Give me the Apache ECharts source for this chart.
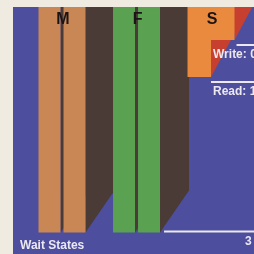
<!DOCTYPE html>
<html>
<head>
<meta charset="utf-8">
<script src="https://cdn.jsdelivr.net/npm/echarts@6/dist/echarts.min.js"></script>
<style>
  html, body { margin: 0; padding: 0; background: #efebe0; }
  #chart { width: 254px; height: 254px; }
</style>
</head>
<body>
<div id="chart"></div>
<script>
  // memory types, each drawn as a read half (left) and a write half (right)
  const categories = ['M', 'F', 'S']
  const slots = [0, 1, 2]
  const readEnd = [5.2, 5.2, 1]
  const writeEnd = [5.2, 5.2, 0]
  const readLabels = ['', '', 'Read: 1']
  const writeLabels = ['', '3', 'Write: 0']
  const barTop = -2 // bars run off the top of the crop

  // looks per column (not data)
  const looks = [
    { front: '#c98756', side: '#4a3b36', gap: 3, dy: 42, lineOff: 0, readGap: 4, writeGap: 4, textDx: 2 },
    { front: '#5aa152', side: '#4a3b36', gap: 3, dy: 42, lineOff: -1, readGap: 4, writeGap: 4, textDx: 108.5 },
    { front: '#ea8a3e', side: '#c7402f', gap: 0, dy: 54, lineOff: 5, readGap: 0, writeGap: 2, textDx: 2 }
  ]
  const HALF = 23.5
  const DX = 29
  const white = '#ece8f0'
  const labelFont = 'bold 12px "Liberation Sans", Arial, sans-serif'

  const chart = echarts.init(document.getElementById('chart'))

  function renderBar(params, api) {
    const i = params.dataIndex
    const lk = looks[i]
    const c = api.coord([api.value(0), 0])[0]
    const top = api.coord([0, barTop])[1]
    const yr = api.coord([0, api.value(1)])[1]
    const yw = api.coord([0, api.value(2)])[1]
    const lx0 = c - HALF
    const lx1 = c - lk.gap / 2
    const rx0 = c + lk.gap / 2
    const rx1 = c + HALF
    const side = (x, y) => ({
      type: 'polygon',
      shape: { points: [[x, y], [x + DX, y - lk.dy], [x + DX, top], [x, top]] },
      style: { fill: lk.side }
    })
    return {
      type: 'group',
      children: [
        side(lx1, yr),
        side(rx1, yw),
        { type: 'rect', shape: { x: lx0, y: top, width: lx1 - lx0, height: yr - top }, style: { fill: lk.front } },
        { type: 'rect', shape: { x: rx0, y: top, width: rx1 - rx0, height: yw - top }, style: { fill: lk.front } },
        {
          type: 'text',
          style: {
            text: categories[i], x: c + 1, y: params.coordSys.y + 13,
            fill: '#1a1414', font: 'bold 16px "Liberation Sans", Arial, sans-serif',
            align: 'center', verticalAlign: 'middle'
          }
        }
      ]
    }
  }

  function renderLeaders(params, api) {
    const i = params.dataIndex
    const lk = looks[i]
    const c = api.coord([api.value(0), 0])[0]
    const right = params.coordSys.x + params.coordSys.width
    const children = []
    const add = (label, start, value) => {
      if (!label) return
      const y = api.coord([0, value])[1] + lk.lineOff
      children.push({
        type: 'line',
        shape: { x1: start, y1: y, x2: right, y2: y },
        style: { stroke: white, lineWidth: 2 }
      })
      children.push({
        type: 'text',
        style: {
          text: label, x: c + lk.textDx, y: y + 10,
          fill: white, font: labelFont, align: 'left', verticalAlign: 'middle'
        }
      })
    }
    add(readLabels[i], c - lk.gap / 2 + lk.readGap, api.value(1))
    add(writeLabels[i], c + HALF + lk.writeGap, api.value(2))
    return { type: 'group', children }
  }

  const seriesData = slots.map((s, i) => [s, readEnd[i], writeEnd[i]])

  chart.setOption({
    backgroundColor: '#efebe0',
    animation: false,
    grid: {
      left: 13,
      top: 7,
      right: 0,
      bottom: 0,
      show: true,
      backgroundColor: '#4d4f9e',
      borderWidth: 0
    },
    xAxis: {
      type: 'value',
      min: -0.658,
      max: 2.577,
      show: false
    },
    yAxis: {
      type: 'value',
      inverse: true,
      min: -0.892,
      max: 5.784,
      show: false
    },
    graphic: [
      {
        type: 'text',
        left: 20,
        top: 240,
        style: { text: 'Wait States', fill: white, font: labelFont }
      }
    ],
    series: [
      {
        type: 'custom',
        clip: true,
        renderItem: renderBar,
        data: seriesData
      },
      {
        type: 'custom',
        clip: true,
        renderItem: renderLeaders,
        data: seriesData
      }
    ]
  })
</script>
</body>
</html>
